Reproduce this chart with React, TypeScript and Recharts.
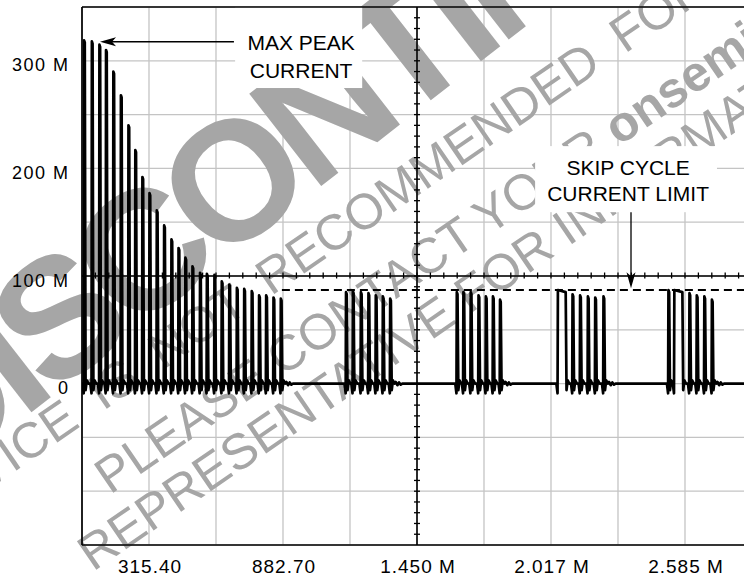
import React from 'react';
import { LineChart, Line, XAxis, YAxis, CartesianGrid, ReferenceLine, ReferenceArea } from 'recharts';

const FONT = 'Liberation Sans, Arial, Helvetica, sans-serif';

// scope graticule: 10 divisions each way
const X_TICKS = [31.75, 315.4, 599.05, 882.7, 1166.35, 1450, 1733.65, 2017.3, 2300.95, 2584.6, 2868.25];
const X_LABELED = [315.4, 882.7, 1450, 2017.3, 2584.6];
const Y_TICKS = [-150, -100, -50, 0, 50, 100, 150, 200, 250, 300, 350];
const Y_LABELED = [0, 100, 200, 300];

// start-up burst: pulse times and peak currents
const BURST1_T = [40, 73, 105, 133, 164, 196, 228, 257, 287, 317, 348, 379, 410, 440, 469, 499, 531, 560, 592, 623, 655, 687, 718, 750, 781, 811, 842, 873];
const BURST1_PEAK = [319, 318, 315, 310, 290, 268, 240, 217, 192, 177, 161, 147, 134, 126, 117, 109, 103, 102, 101, 95, 92, 89, 88, 86, 82, 82, 80, 79];
// skip cycle bursts
const BURST2_T = [1149, 1178, 1212, 1244, 1275, 1305, 1336];
const BURST2_PEAK = [85, 86, 85, 84, 82, 81, 79];
const BURST3_T = [1618, 1646, 1677, 1710, 1741, 1771, 1801];
const BURST3_PEAK = [85, 85, 85, 82, 81, 81, 78];
const BURST4_T = [2046, 2108, 2140, 2173, 2204, 2239];
const BURST4_PEAK = [87, 83, 82, 81, 80, 81];
const BURST4_WIDTH = [30, 0, 0, 0, 0, 0];
const BURST5_T = [2514, 2539, 2603, 2634, 2666, 2698];
const BURST5_PEAK = [87, 87, 84, 82, 81, 78];
const BURST5_WIDTH = [0, 31, 0, 0, 0, 0];
// ringing after each burst
const TAIL = [1.5, -1.5, 1, -1, 0];

const SKIP_LIMIT = 87;
const X_MIN = X_TICKS[0];
const X_MAX = X_TICKS[X_TICKS.length - 1];

type Pt = { x: number; y: number };

// one switching pulse: dip, sharp rise, fast fall with small overshoot
const pulse = (t: number, peak: number, w: number): Pt[] => [
  { x: t - 6, y: 0 },
  { x: t - 1, y: -9 },
  { x: t + 0.5, y: peak },
  { x: t + w + 3.5, y: peak - 2 },
  { x: t + w + 7, y: -6 },
  { x: t + w + 12, y: 3 },
  { x: t + w + 19, y: 0 },
];

const bursts = [
  { t: BURST1_T, p: BURST1_PEAK, w: [] as number[] },
  { t: BURST2_T, p: BURST2_PEAK, w: [] as number[] },
  { t: BURST3_T, p: BURST3_PEAK, w: [] as number[] },
  { t: BURST4_T, p: BURST4_PEAK, w: BURST4_WIDTH },
  { t: BURST5_T, p: BURST5_PEAK, w: BURST5_WIDTH },
];

const trace: Pt[] = [{ x: X_MIN, y: 0 }];
bursts.forEach((b) => {
  b.t.forEach((t, i) => trace.push(...pulse(t, b.p[i], b.w[i] || 0)));
  const n = b.t.length - 1;
  const end = b.t[n] + (b.w[n] || 0);
  TAIL.forEach((v, i) => trace.push({ x: end + 24 + i * 7, y: v }));
});
trace.push({ x: X_MAX, y: 0 });

const fmtX = (v: number) => (v < 1000 ? v.toFixed(2) : `${(v / 1000).toFixed(3)} M`);
const fmtY = (v: number) => (v === 0 ? '0' : `${v} M`);

const XTick = ({ x, y, payload }: any) =>
  X_LABELED.includes(payload.value) ? (
    <text x={x + 1} y={y + 13.5} textAnchor="middle" fontSize={19} letterSpacing={1} fontFamily={FONT} fill="#000">
      {fmtX(payload.value)}
    </text>
  ) : (
    <g />
  );

const YTick = ({ x, y, payload }: any) =>
  Y_LABELED.includes(payload.value) ? (
    <text x={x + 1.5} y={y + 10.5} textAnchor="end" fontSize={18} letterSpacing={1.5} fontFamily={FONT} fill="#000">
      {fmtY(payload.value)}
    </text>
  ) : (
    <g />
  );

// center graticule lines with minor ticks (5 per division)
const CrossLine = (props: any) => {
  const { x1, y1, x2, y2 } = props;
  const vertical = Math.abs(x1 - x2) < 0.5;
  const ticks = [];
  for (let i = 1; i < 50; i++) {
    const px = x1 + ((x2 - x1) * i) / 50;
    const py = y1 + ((y2 - y1) * i) / 50;
    ticks.push(
      vertical ? (
        <line key={i} x1={px - 3} x2={px + 3} y1={py} y2={py} />
      ) : (
        <line key={i} x1={px} x2={px} y1={py - 3.5} y2={py + 2.5} />
      )
    );
  }
  return (
    <g stroke="#000" strokeWidth={1.3}>
      <line x1={x1} y1={y1} x2={x2} y2={y2} strokeWidth={1.6} />
      {ticks}
    </g>
  );
};

const Arrow = (props: any) => {
  const { x1, y1, x2, y2 } = props;
  const dx = x2 - x1;
  const dy = y2 - y1;
  const len = Math.hypot(dx, dy) || 1;
  const ux = dx / len;
  const uy = dy / len;
  const px = -uy;
  const py = ux;
  const L = 16;
  const W = 4.5;
  const N = 12;
  const bx = x2 - ux * L;
  const by = y2 - uy * L;
  const pts = `${x2},${y2} ${bx + px * W},${by + py * W} ${x2 - ux * N},${y2 - uy * N} ${bx - px * W},${by - py * W}`;
  return (
    <g>
      <line x1={x1} y1={y1} x2={x2 - ux * N} y2={y2 - uy * N} stroke="#000" strokeWidth={1.3} />
      <polygon points={pts} fill="#000" />
    </g>
  );
};

const textBox = (lines: string[], cx: number, first: number, step: number) => (props: any) => {
  const { x, y, width, height } = props;
  return (
    <g>
      <rect x={x} y={y} width={width} height={height} fill="#fff" />
      {lines.map((s, i) => (
        <text key={s} x={x + cx} y={y + first + i * step} textAnchor="middle" fontSize={21} fontFamily={FONT} fill="#000">
          {s}
        </text>
      ))}
    </g>
  );
};

const MaxPeakBox = textBox(['MAX PEAK', 'CURRENT'], 66, 42.5, 28);
const SkipBox = textBox(['SKIP CYCLE', 'CURRENT LIMIT'], 93, 28.5, 26);

// "discontinued" watermark, placed from the plot origin
const Watermark = (props: any) => {
  const { x, y } = props;
  const g = '#a6a6a6';
  const big = { cx: x + 270, cy: y + 80 };
  const small = (sx: number, sy: number, key: string, content: React.ReactNode, ws = 0) => (
    <text
      key={key}
      x={sx}
      y={sy}
      transform={`rotate(-34.4 ${sx} ${sy})`}
      fontSize={50}
      wordSpacing={ws}
      fontFamily={FONT}
      fill={g}
    >
      {content}
    </text>
  );
  return (
    <g pointerEvents="none">
      {small(x - 154, y + 524, 'l1', 'DEVICE IS NOT RECOMMENDED FOR NEW DESIGN', 12)}
      {small(x + 28, y + 488, 'l2', (
        <>
          PLEASE CONTACT YOUR <tspan fontWeight="bold">onsemi</tspan>
        </>
      ))}
      {small(x + 11, y + 565, 'l3', 'REPRESENTATIVE FOR INFORMATION')}
      <text
        x={big.cx}
        y={big.cy}
        textAnchor="middle"
        dominantBaseline="central"
        fontSize={170}
        letterSpacing={-12}
        fontWeight="bold"
        fontFamily={FONT}
        fill={g}
        transform={`rotate(-38 ${big.cx} ${big.cy})`}
      >
        DISCONTINUED
      </text>
    </g>
  );
};

export default function App() {
  return (
    <div style={{ position: 'absolute', left: 0, top: 0, width: 744, height: 578, overflow: 'hidden', background: '#fff' }}>
      <LineChart width={760} height={578} data={trace} margin={{ top: 7, right: 8, left: 0, bottom: 0 }}>
        <CartesianGrid stroke="#c4c4c4" strokeWidth={1.3} />
        <XAxis
          dataKey="x"
          type="number"
          domain={[X_MIN, X_MAX]}
          ticks={X_TICKS}
          interval={0}
          allowDataOverflow
          height={33}
          tickSize={6}
          tickMargin={8.5}
          tickLine={false}
          axisLine={{ stroke: '#000', strokeWidth: 1.7 }}
          tick={<XTick />}
        />
        <YAxis
          type="number"
          domain={[-150, 350]}
          ticks={Y_TICKS}
          interval={0}
          allowDataOverflow
          width={82}
          tickSize={6}
          tickMargin={8}
          tickLine={false}
          axisLine={{ stroke: '#000', strokeWidth: 1.7 }}
          tick={<YTick />}
        />
        <ReferenceArea x1={X_MIN} x2={X_MAX} y1={-150} y2={350} shape={Watermark} />
        <ReferenceArea x1={680} x2={1218} y1={274.7} y2={350} shape={MaxPeakBox} />
        <ReferenceArea x1={1950} x2={2720} y1={159.3} y2={220.7} shape={SkipBox} />
        <ReferenceLine y={350} stroke="#000" strokeWidth={1.7} />
        <ReferenceLine x={1450} shape={CrossLine} />
        <ReferenceLine y={100} shape={CrossLine} />
        <ReferenceLine
          segment={[{ x: 878, y: SKIP_LIMIT }, { x: X_MAX, y: SKIP_LIMIT }]}
          stroke="#000"
          strokeWidth={2}
          strokeDasharray="8 5"
        />
        <Line
          dataKey="y"
          type="linear"
          stroke="#000"
          strokeWidth={2.7}
          strokeLinejoin="round"
          dot={false}
          activeDot={false}
          isAnimationActive={false}
        />
        <ReferenceLine segment={[{ x: 675, y: 317.7 }, { x: 108, y: 317.7 }]} shape={Arrow} />
        <ReferenceLine segment={[{ x: 2356, y: 159.3 }, { x: 2356, y: 88.5 }]} shape={Arrow} />
      </LineChart>
    </div>
  );
}
